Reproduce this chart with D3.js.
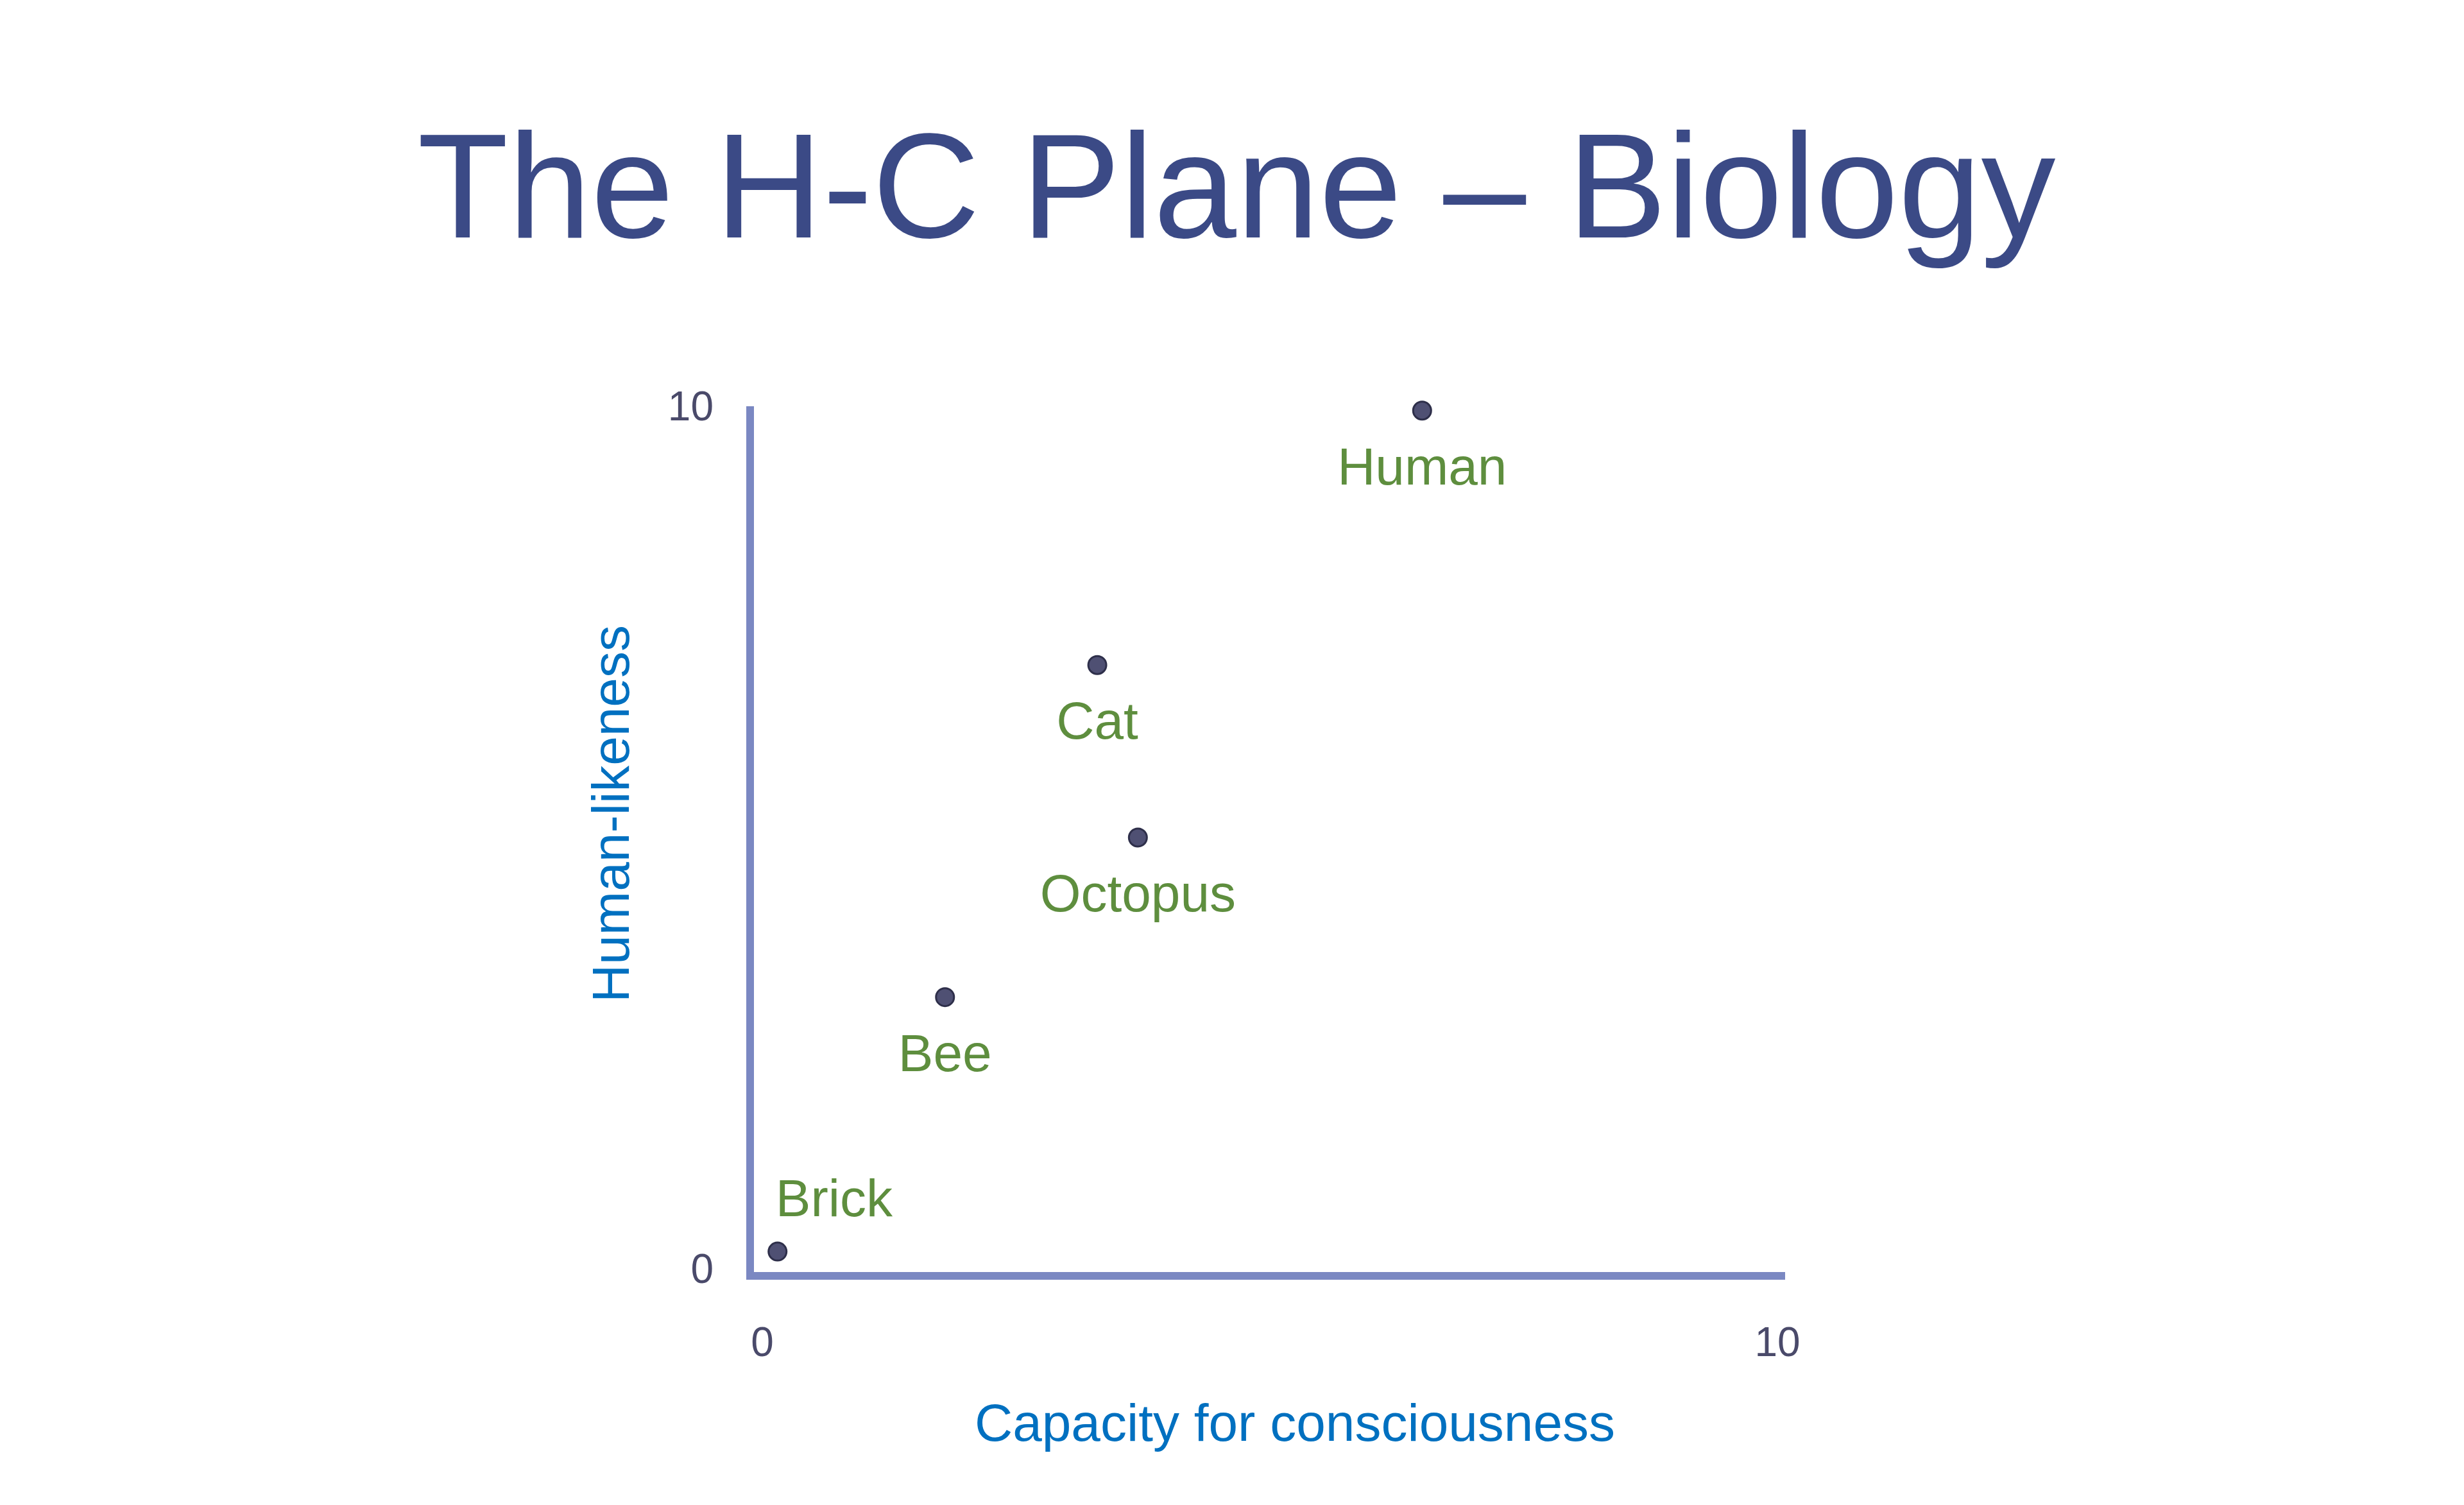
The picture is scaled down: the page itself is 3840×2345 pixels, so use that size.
<!DOCTYPE html>
<html>
<head>
<meta charset="utf-8">
<script src="https://cdn.jsdelivr.net/npm/d3@7"></script>
<style>
  body { margin: 0; background: #fff; }
  text { font-family: "Liberation Sans", Arial, sans-serif; }
</style>
</head>
<body>
<svg id="chart" width="3840" height="2345"></svg>
<script>
// data
const names = ['Human', 'Cat', 'Octopus', 'Bee', 'Brick'];
const capacity = [6.5, 3.3, 3.7, 1.8, 0.15];
const likeness = [9.95, 7.0, 5.0, 3.15, 0.2];
const tickValues = [0, 10];

const svg = d3.select('#chart');

const x = d3.scaleLinear().domain([0, 10]).range([1188, 2770]);
const y = d3.scaleLinear().domain([0, 10]).range([1977, 633]);

svg.append('text')
    .attr('x', 1927).attr('y', 370)
    .attr('text-anchor', 'middle')
    .attr('font-size', 232)
    .attr('fill', '#3B4A86')
    .text('The H-C Plane \u2013 Biology');

// axis lines
const axisColor = '#7B88C2';
svg.append('line')
    .attr('x1', 1169).attr('x2', 1169)
    .attr('y1', y(10)).attr('y2', 1994)
    .attr('stroke', axisColor).attr('stroke-width', 12);
svg.append('line')
    .attr('x1', 1163).attr('x2', x(10) + 12)
    .attr('y1', 1988).attr('y2', 1988)
    .attr('stroke', axisColor).attr('stroke-width', 12);

// tick labels
svg.append('g').selectAll('text')
    .data(tickValues).join('text')
    .attr('x', (d) => x(d))
    .attr('y', 2113)
    .attr('text-anchor', 'middle')
    .attr('font-size', 64)
    .attr('fill', '#4A4A6A')
    .text((d) => d);

svg.append('g').selectAll('text')
    .data(tickValues).join('text')
    .attr('x', 1112)
    .attr('y', (d) => y(d) + 22)
    .attr('text-anchor', 'end')
    .attr('font-size', 64)
    .attr('fill', '#4A4A6A')
    .text((d) => d);

// axis titles
svg.append('text')
    .attr('x', 2018).attr('y', 2245)
    .attr('text-anchor', 'middle')
    .attr('font-size', 82)
    .attr('fill', '#0070C0')
    .text('Capacity for consciousness');

svg.append('text')
    .attr('transform', 'translate(980,1268) rotate(-90)')
    .attr('text-anchor', 'middle')
    .attr('font-size', 82)
    .attr('fill', '#0070C0')
    .text('Human-likeness');

// points
const pts = names.map((n, i) => ({ name: n, cx: capacity[i], cy: likeness[i] }));

svg.append('g').selectAll('circle')
    .data(pts).join('circle')
    .attr('cx', (d) => x(d.cx))
    .attr('cy', (d) => y(d.cy))
    .attr('r', 14)
    .attr('fill', '#4F5073')
    .attr('stroke', '#2E2F4A')
    .attr('stroke-width', 3);

svg.append('g').selectAll('text')
    .data(pts).join('text')
    .attr('x', (d) => d.name === 'Brick' ? x(d.cx) - 3 : x(d.cx))
    .attr('y', (d) => d.name === 'Brick' ? y(d.cy) - 55 : y(d.cy) + 115)
    .attr('text-anchor', (d) => d.name === 'Brick' ? 'start' : 'middle')
    .attr('font-size', 82)
    .attr('fill', '#5E8E3E')
    .text((d) => d.name);
</script>
</body>
</html>
